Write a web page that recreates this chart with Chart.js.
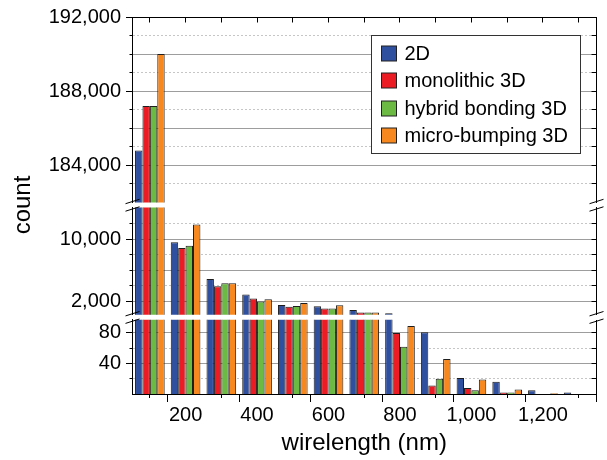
<!DOCTYPE html>
<html>
<head>
<meta charset="utf-8">
<script src="https://cdn.jsdelivr.net/npm/chart.js@4.4.1/dist/chart.umd.min.js"></script>
<style>
  html, body { margin: 0; padding: 0; background: #fff; }
  canvas { display: block; }
</style>
</head>
<body>
<canvas id="chart" width="607" height="460"></canvas>
<script>
"use strict";

// wirelength bins (nm), one group of four bars per bin
var bins = [100, 200, 300, 400, 500, 600, 700, 800, 900, 1000, 1100, 1200, 1300];

var seriesNames = ["2D", "monolithic 3D", "hybrid bonding 3D", "micro-bumping 3D"];
var seriesColors = ["#2f4f9f", "#ec1c24", "#6cb944", "#f7881f"];

// counts per bin
var count2D = [184800, 9650, 4880, 2870, 1520, 1360, 880, 450, 81, 21, 16, 5, 2];
var countMono = [187200, 8880, 3940, 2350, 1300, 1050, 530, 80, 11, 8, 2, 0, 0];
var countHybrid = [187200, 9170, 4320, 1960, 1390, 1050, 530, 62, 20, 5, 2, 0, 0];
var countMicro = [190000, 11930, 4320, 2260, 1780, 1480, 530, 89, 46, 19, 6, 1, 0];

// x axis ticks
var xTicks = [100, 200, 300, 400, 500, 600, 700, 800, 900, 1000, 1100, 1200, 1300];
var xLabelled = [200, 400, 600, 800, 1000, 1200];

// broken y axis: top, middle and bottom pieces
var topTicks = [183000, 184000, 185000, 186000, 187000, 188000, 189000, 190000, 191000, 192000];
var topLabelled = [184000, 188000, 192000];
var topSolid = [184000, 186000, 188000, 190000, 192000];

var midTicks = [2000, 4000, 6000, 8000, 10000, 12000];
var midLabelled = [2000, 10000];
var midSolid = [2000, 6000, 10000];

var botTicks = [20, 40, 60, 80];
var botLabelled = [40, 80];
var botSolid = [40, 80];

var seriesData = [count2D, countMono, countHybrid, countMicro];

// axis pieces, listed top to bottom; weight = height share in pixels
var segments = [
  { id: "yTop", min: 182000, max: 192000, weight: 186, ticks: topTicks, labelled: topLabelled, solid: topSolid },
  { id: "yMid", min: 260, max: 14130, weight: 107.5, ticks: midTicks, labelled: midLabelled, solid: midSolid },
  { id: "yBot", min: 0, max: 97.4, weight: 74.5, ticks: botTicks, labelled: botLabelled, solid: botSolid }
];
var gapIds = ["gap1", "gap2"];

Chart.defaults.font.family = "'Liberation Sans', Arial, sans-serif";
Chart.defaults.color = "#000";

function crisp(p) {
  return Math.round(p - 0.5) + 0.5;
}

// one dataset per series and axis piece, clipped by its own scale
var datasets = [];
seriesData.forEach(function (values, s) {
  segments.forEach(function (seg) {
    datasets.push({
      label: seriesNames[s],
      stack: "s" + s,
      yAxisID: seg.id,
      data: values.map(function (v, i) {
        return { x: bins[i], y: v };
      }),
      backgroundColor: seriesColors[s],
      borderColor: "#1e1e1e",
      borderWidth: 1,
      categoryPercentage: 0.83,
      barPercentage: 1.0
    });
  });
});

function segmentScale(seg, order) {
  return {
    type: "linear",
    position: "left",
    stack: "count",
    stackWeight: seg.weight,
    weight: order,
    min: seg.min,
    max: seg.max,
    stacked: false,
    afterBuildTicks: function (scale) {
      scale.ticks = seg.ticks.map(function (v) { return { value: v }; });
    },
    afterFit: function (scale) {
      scale.width = 132;
    },
    ticks: {
      font: { size: 20 },
      color: "#000",
      padding: 5,
      autoSkip: false,
      callback: function (v) {
        return seg.labelled.indexOf(v) >= 0 ? v.toLocaleString("en-US") : "";
      }
    },
    grid: {
      lineWidth: 1,
      tickLength: 6,
      color: function (ctx) {
        if (!ctx.tick) return "#9d9d9d";
        return seg.solid.indexOf(ctx.tick.value) >= 0 ? "#9d9d9d" : "#c6c6c6";
      },
      tickColor: function (ctx) {
        if (!ctx.tick) return "#000";
        return seg.labelled.indexOf(ctx.tick.value) >= 0 ? "#000" : "rgba(0,0,0,0)";
      }
    },
    border: {
      display: true,
      color: "#000",
      width: 1,
      dash: function (ctx) {
        if (!ctx.tick) return [];
        return seg.solid.indexOf(ctx.tick.value) >= 0 ? [] : [2, 2];
      }
    }
  };
}

function gapScale(withTitle, order) {
  return {
    type: "linear",
    position: "left",
    stack: "count",
    stackWeight: 5,
    weight: order,
    afterFit: function (scale) {
      scale.width = 132;
    },
    ticks: { display: false },
    grid: { display: false },
    border: { display: false },
    title: {
      display: withTitle,
      text: "count",
      font: { size: 24 },
      color: "#000",
      padding: { top: 8.8, bottom: 0 }
    }
  };
}

var scales = {
  x: {
    type: "linear",
    position: "bottom",
    min: 50,
    max: 1350,
    offset: false,
    afterBuildTicks: function (scale) {
      scale.ticks = xTicks.map(function (v) { return { value: v }; });
    },
    afterFit: function (scale) {
      scale.height = 66;
    },
    ticks: {
      font: { size: 20 },
      color: "#000",
      padding: 1,
      autoSkip: false,
      maxRotation: 0,
      callback: function (v) {
        return xLabelled.indexOf(v) >= 0 ? v.toLocaleString("en-US") : "";
      }
    },
    grid: {
      display: true,
      drawOnChartArea: false,
      tickLength: 8,
      tickColor: function (ctx) {
        if (!ctx.tick) return "#000";
        return xLabelled.indexOf(ctx.tick.value) >= 0 ? "#000" : "rgba(0,0,0,0)";
      }
    },
    border: { display: true, color: "#000", width: 1 },
    title: {
      display: true,
      text: "wirelength (nm)",
      font: { size: 24 },
      color: "#000",
      padding: { top: 0, bottom: 2 }
    }
  }
};
scales[segments[0].id] = segmentScale(segments[0], 5);
scales[gapIds[0]] = gapScale(true, 4);
scales[segments[1].id] = segmentScale(segments[1], 3);
scales[gapIds[1]] = gapScale(false, 2);
scales[segments[2].id] = segmentScale(segments[2], 1);

// top and right axis lines, minor ticks and the break marks
var framePlugin = {
  id: "frame",
  afterDraw: function (chart) {
    var ctx = chart.ctx;
    var area = chart.chartArea;
    var xs = chart.scales.x;
    var left = crisp(area.left);
    var right = crisp(area.right);
    var top = crisp(area.top);

    function line(x1, y1, x2, y2) {
      ctx.beginPath();
      ctx.moveTo(x1, y1);
      ctx.lineTo(x2, y2);
      ctx.stroke();
    }

    ctx.save();
    ctx.setLineDash([]);
    ctx.strokeStyle = "#000";
    ctx.fillStyle = "#000";
    ctx.lineWidth = 1;

    // top frame line
    ctx.fillRect(Math.round(area.left), Math.round(area.top), Math.round(area.right) - Math.round(area.left), 1);

    xTicks.forEach(function (v) {
      var px = crisp(xs.getPixelForValue(v));
      line(px, top, px, top + 5);
      if (xLabelled.indexOf(v) < 0) {
        line(px, area.bottom, px, area.bottom + 4);
      }
    });

    // right frame line, one piece per axis segment, with inward ticks
    segments.forEach(function (seg) {
      var s = chart.scales[seg.id];
      ctx.fillRect(right - 0.5, Math.round(s.top), 1, Math.round(s.bottom) - Math.round(s.top));
      seg.ticks.forEach(function (v) {
        var py = crisp(s.getPixelForValue(v));
        line(right - 5, py, right, py);
        if (seg.labelled.indexOf(v) < 0) {
          line(left - 3, py, left, py);
        }
      });
    });

    gapIds.forEach(function (id) {
      var g = chart.scales[id];
      [left, right].forEach(function (ax) {
        [g.top - 1, g.bottom + 1.5].forEach(function (cy) {
          line(ax - 7, cy + 2.2, ax + 7, cy - 2.2);
        });
      });
    });
    ctx.restore();
  }
};

// boxed legend inside the plot, top right
var legendPlugin = {
  id: "boxLegend",
  afterDraw: function (chart) {
    var ctx = chart.ctx;
    var area = chart.chartArea;
    var bx = crisp(area.right - 225.5);
    var by = crisp(area.top + 18.3);
    var bw = 209;
    var bh = 118;

    ctx.save();
    ctx.setLineDash([]);
    ctx.fillStyle = "#fff";
    ctx.fillRect(bx, by, bw, bh);
    ctx.strokeStyle = "#333";
    ctx.lineWidth = 1;
    ctx.strokeRect(bx, by, bw, bh);

    ctx.font = "20px 'Liberation Sans', Arial, sans-serif";
    ctx.textBaseline = "middle";
    seriesNames.forEach(function (name, i) {
      var cy = by + 18 + i * 27.4;
      ctx.fillStyle = seriesColors[i];
      ctx.fillRect(bx + 10, Math.round(cy - 7.5), 15, 15);
      ctx.strokeStyle = "#222";
      ctx.strokeRect(bx + 10, Math.round(cy - 7.5), 15, 15);
      ctx.fillStyle = "#000";
      ctx.fillText(name, bx + 33, cy + 1);
    });
    ctx.restore();
  }
};

new Chart(document.getElementById("chart"), {
  type: "bar",
  data: { datasets: datasets },
  options: {
    responsive: false,
    animation: false,
    devicePixelRatio: 1,
    layout: { padding: { left: 0, right: 10.5, top: 16, bottom: 0 } },
    plugins: {
      legend: { display: false },
      tooltip: { enabled: false }
    },
    scales: scales
  },
  plugins: [framePlugin, legendPlugin]
});
</script>
</body>
</html>
